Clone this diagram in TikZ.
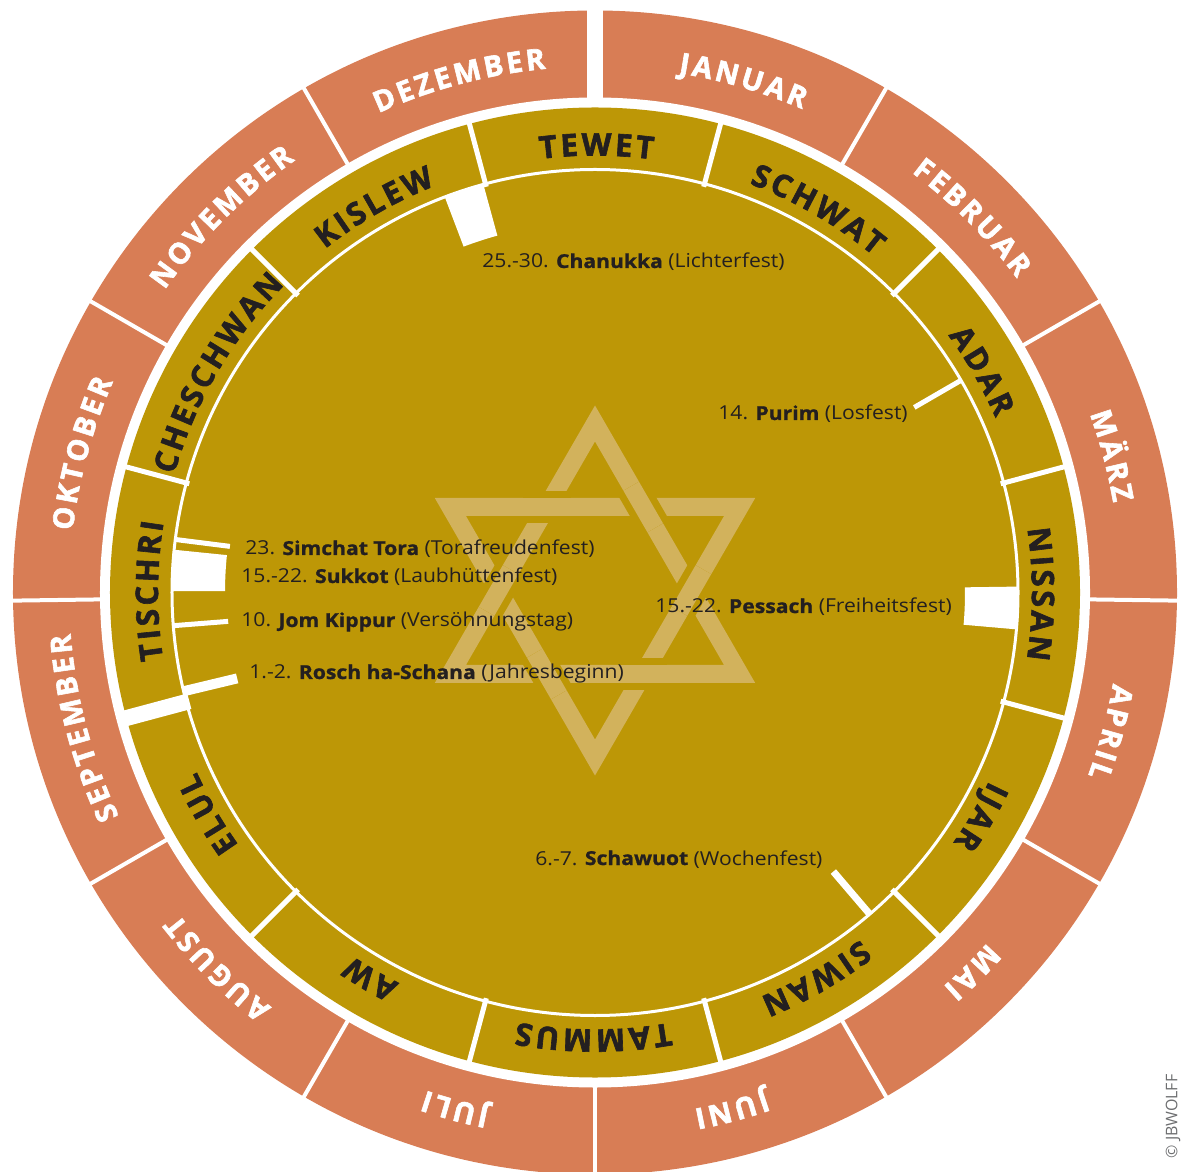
\documentclass[tikz,border=0pt]{standalone}
\usepackage{fontspec}
\setmainfont{Open Sans}
\newfontfamily\labelsans[BoldFeatures={FakeBold=2}]{Open Sans}
\newfontfamily\feastsans[FakeStretch=1.1, BoldFeatures={FakeBold=1}]{Open Sans}
\usetikzlibrary{decorations.text}

\definecolor{monthorange}{HTML}{D87D55}
\definecolor{monthgold}{HTML}{BD9706}
\definecolor{stargold}{HTML}{D2B25C}
\definecolor{inkblack}{HTML}{231F20}
\definecolor{notegray}{HTML}{6D6E70}

\newcommand\greglabelfont{\labelsans\fontsize{14.5}{16}\selectfont\bfseries}
\newcommand\hebrlabelfont{\labelsans\fontsize{15.5}{17}\selectfont\bfseries}

\tikzset{
  gregmonth/.style={decorate, decoration={text along path, text align=center,
      text color=white, text={|\greglabelfont\kern1.5pt|#1}}},
  hebrmonth/.style={decorate, decoration={text along path, text align=center,
      text color=inkblack, text={|\hebrlabelfont\kern1.5pt|#1}}},
  feast/.style={anchor=base west, inner sep=0pt, text=inkblack,
      font=\feastsans\fontsize{9.6}{11}\selectfont},
  monthgap/.style={white, line width=2pt},
  hebrgap/.style={white, line width=2.5pt},
  starband/.style={stargold, line width=9pt, line join=miter},
  feastbar/.style={white, line width=2.5pt}
}

\begin{document}
\begin{tikzpicture}[x=0.5pt, y=0.5pt]
\useasboundingbox (-595,-578.5) rectangle (591,592.5);

% rings
\fill[monthorange] (0,0) circle[radius=582];
\fill[white] (0,0) circle[radius=495];
\fill[monthgold] (0,0) circle[radius=485];

% borders of the civil months
\draw[monthgap, line width=8pt] (90:490) -- (90:590);
\draw[monthgap] (60:490) -- (60:590);
\draw[monthgap] (30:490) -- (30:590);
\draw[monthgap] (-0.8:490) -- (-0.8:590);
\draw[monthgap] (-30:490) -- (-30:590);
\draw[monthgap] (-60:490) -- (-60:590);
\draw[monthgap] (-90:490) -- (-90:590);
\draw[monthgap] (-120:490) -- (-120:590);
\draw[monthgap] (-150:490) -- (-150:590);
\draw[monthgap] (180.8:490) -- (180.8:590);
\draw[monthgap] (150:490) -- (150:590);
\draw[monthgap] (120:490) -- (120:590);

% borders of the jewish months
\draw[hebrgap] (105:420) -- (105:488);
\draw[hebrgap] (75:420) -- (75:488);
\draw[hebrgap] (45:420) -- (45:488);
\draw[hebrgap] (15:420) -- (15:488);
\draw[hebrgap] (-15:420) -- (-15:488);
\draw[hebrgap] (-45:420) -- (-45:488);
\draw[hebrgap] (-75:420) -- (-75:488);
\draw[hebrgap] (-105:420) -- (-105:488);
\draw[hebrgap] (-135:420) -- (-135:488);
\draw[hebrgap, line width=8pt] (195:420) -- (195:490);
\draw[hebrgap] (165:420) -- (165:488);
\draw[hebrgap] (135:420) -- (135:488);

\draw[white, line width=1.5pt] (0,0) circle[radius=423];

% star
\begin{scope}[shift={(0,2)}]
\draw[starband] (90:167) -- (210:167) -- (330:167) -- cycle;
\draw[starband] (270:167) -- (30:167) -- (150:167) -- cycle;
\draw[monthgold, line width=16pt] (120:96.4) ++(0:-24) -- ++(0:48);
\draw[starband] (120:96.4) ++(0:-24) -- ++(0:48);
\draw[monthgold, line width=16pt] (60:96.4) ++(-60:-24) -- ++(-60:48);
\draw[starband] (60:96.4) ++(-60:-24) -- ++(-60:48);
\draw[monthgold, line width=16pt] (0:96.4) ++(60:-24) -- ++(60:48);
\draw[starband] (0:96.4) ++(60:-24) -- ++(60:48);
\draw[monthgold, line width=16pt] (300:96.4) ++(0:-24) -- ++(0:48);
\draw[starband] (300:96.4) ++(0:-24) -- ++(0:48);
\draw[monthgold, line width=16pt] (240:96.4) ++(-60:-24) -- ++(-60:48);
\draw[starband] (240:96.4) ++(-60:-24) -- ++(-60:48);
\draw[monthgold, line width=16pt] (180:96.4) ++(60:-24) -- ++(60:48);
\draw[starband] (180:96.4) ++(60:-24) -- ++(60:48);
\end{scope}

% feast marks
\fill[white] (105.3:370) arc[start angle=105.3, end angle=110.8, radius=370]
  -- (110.8:424) arc[start angle=110.8, end angle=105.3, radius=424] -- cycle;
\fill[white] (-5:370) arc[start angle=-5, end angle=0.8, radius=370]
  -- (0.8:424) arc[start angle=0.8, end angle=-5, radius=424] -- cycle;
\fill[white] (174.2:370) arc[start angle=174.2, end angle=179.8, radius=370]
  -- (179.8:424) arc[start angle=179.8, end angle=174.2, radius=424] -- cycle;
\draw[feastbar] (30.1:369) -- (30.1:424);
\draw[feastbar, line width=3.5pt] (-49.5:367) -- (-49.5:424);
\draw[feastbar, line width=5pt] (193.5:368) -- (193.5:424);
\draw[feastbar] (184.5:368) -- (184.5:424);
\draw[feastbar] (172.8:368) -- (172.8:424);

% feasts
\node[feast] (chanukka) at (-113,324.5) {25.-30. \textbf{Chanukka} (Lichterfest)};
\node[feast] (purim) at (123,172.5) {14. \textbf{Purim} (Losfest)};
\node[feast] (simchat) at (-350,37.5) {23. \textbf{Simchat Tora} (Torafreudenfest)};
\node[feast] (sukkot) at (-354,9.5) {15.-22. \textbf{Sukkot} (Laubhüttenfest)};
\node[feast] (kippur) at (-354,-34.5) {10. \textbf{Jom Kippur} (Versöhnungstag)};
\node[feast] (rosch) at (-346,-86.5) {1.-2. \textbf{Rosch ha-Schana} (Jahresbeginn)};
\node[feast] (pessach) at (60,-20.5) {15.-22. \textbf{Pessach} (Freiheitsfest)};
\node[feast] (schawuot) at (-60,-272.5) {6.-7. \textbf{Schawuot} (Wochenfest)};

% civil months
\path[gregmonth=JANUAR] (114:526) arc[start angle=114, end angle=34, radius=526];
\path[gregmonth=FEBRUAR] (85:526) arc[start angle=85, end angle=5, radius=526];
\path[gregmonth=MÄRZ] (55:526) arc[start angle=55, end angle=-25, radius=526];
\path[gregmonth=APRIL] (25:526) arc[start angle=25, end angle=-55, radius=526];
\path[gregmonth=MAI] (-5:526) arc[start angle=-5, end angle=-85, radius=526];
\path[gregmonth=JUNI] (-35:526) arc[start angle=-35, end angle=-115, radius=526];
\path[gregmonth=JULI] (-65:526) arc[start angle=-65, end angle=-145, radius=526];
\path[gregmonth=AUGUST] (-95:526) arc[start angle=-95, end angle=-175, radius=526];
\path[gregmonth=SEPTEMBER] (-125:526) arc[start angle=-125, end angle=-205, radius=526];
\path[gregmonth=OKTOBER] (205:526) arc[start angle=205, end angle=125, radius=526];
\path[gregmonth=NOVEMBER] (175:526) arc[start angle=175, end angle=95, radius=526];
\path[gregmonth=DEZEMBER] (145:526) arc[start angle=145, end angle=65, radius=526];

% jewish months
\path[hebrmonth=TEWET] (125:437) arc[start angle=125, end angle=55, radius=437];
\path[hebrmonth=SCHWAT] (95:437) arc[start angle=95, end angle=25, radius=437];
\path[hebrmonth=ADAR] (65:437) arc[start angle=65, end angle=-5, radius=437];
\path[hebrmonth=NISSAN] (35:437) arc[start angle=35, end angle=-35, radius=437];
\path[hebrmonth=IJAR] (5:437) arc[start angle=5, end angle=-65, radius=437];
\path[hebrmonth=SIWAN] (-25:437) arc[start angle=-25, end angle=-95, radius=437];
\path[hebrmonth=TAMMUS] (-55:437) arc[start angle=-55, end angle=-125, radius=437];
\path[hebrmonth=AW] (-85:437) arc[start angle=-85, end angle=-155, radius=437];
\path[hebrmonth=ELUL] (-115:437) arc[start angle=-115, end angle=-185, radius=437];
\path[hebrmonth=TISCHRI] (215:437) arc[start angle=215, end angle=145, radius=437];
\path[hebrmonth=CHESCHWAN] (185:437) arc[start angle=185, end angle=115, radius=437];
\path[hebrmonth=KISLEW] (155:437) arc[start angle=155, end angle=85, radius=437];

\node[rotate=90, inner sep=0pt, text=notegray, font=\fontsize{8}{9}\selectfont] (copyright) at (578,-524) {© JBWOLFF};
\end{tikzpicture}
\end{document}
